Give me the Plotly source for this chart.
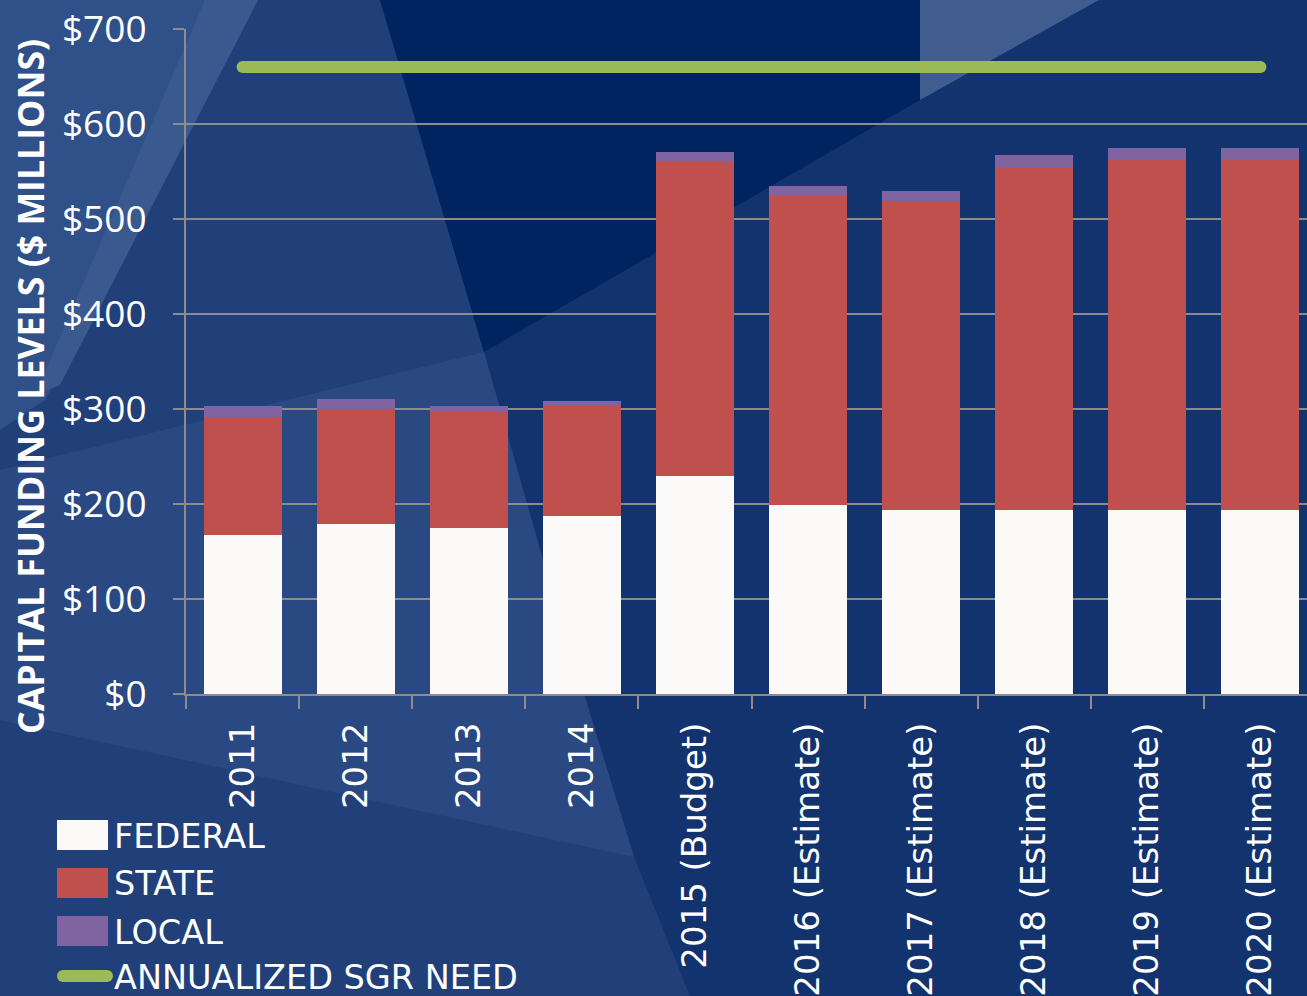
import plotly.graph_objects as go

categories = ["2011", "2012", "2013", "2014", "2015 (Budget)", "2016 (Estimate)",
              "2017 (Estimate)", "2018 (Estimate)", "2019 (Estimate)", "2020 (Estimate)"]
federal = [167, 179, 175, 187, 230, 199, 194, 194, 194, 194]
state = [125, 121, 122, 117, 330, 325, 325, 361, 369, 369]
local = [11, 11, 6, 4, 11, 11, 11, 12, 12, 12]
sgr_need = [660, 660, 660, 660, 660, 660, 660, 660, 660, 660]
y_ticks = [0, 100, 200, 300, 400, 500, 600, 700]
y_tick_text = ["$0", "$100", "$200", "$300", "$400", "$500", "$600", "$700"]

# the chart's plot area runs a little past the right edge of the 1307px view
W, H = 1317, 996
L, R, T, B = 186, 0, 29, 302
PW, PH = W - L - R, H - T - B


def px(x):
    return (x - L) / PW


def py(y):
    return (H - B - y) / PH


def poly(points, color):
    d = "M " + " L ".join(f"{px(x):.5f},{py(y):.5f}" for x, y in points) + " Z"
    return dict(type="path", xref="paper", yref="paper", path=d,
                fillcolor=color, line=dict(width=0), layer="below")


shapes = [
    # left base region
    poly([(0, 0), (380, 0), (484, 352), (543, 560), (634, 857), (690, 996), (0, 996)], "#21407a"),
    # lighter mid-left region
    poly([(484, 352), (543, 560), (634, 857), (0, 720), (0, 470)], "#2a4982"),
    # top-left light region
    poly([(0, 0), (255, 0), (45, 400), (0, 430)], "#30508a"),
    poly([(205, 0), (258, 0), (60, 385), (35, 395)], "#3a598f"),
    # dark top triangle
    poly([(380, 0), (920, 0), (920, 100), (484, 352)], "#00245f"),
    # light top-right triangle
    poly([(920, 0), (1099, 0), (920, 100)], "#415d8f"),
]

# custom legend
legend_font = dict(family="DejaVu Sans", size=33.5, color="white")
legend_rows = [("FEDERAL", "#fbfaf8", 835), ("STATE", "#c0504d", 883), ("LOCAL", "#8064a2", 931)]
annotations = []
for label, col, yc in legend_rows:
    shapes.append(dict(type="rect", xref="paper", yref="paper",
                       x0=px(57), x1=px(108), y0=py(yc + 15), y1=py(yc - 15),
                       fillcolor=col, line=dict(width=0)))
    annotations.append(dict(text=label, xref="paper", yref="paper", x=px(112), y=py(yc + 1),
                            xanchor="left", yanchor="middle", showarrow=False, font=legend_font))
# green legend line with rounded ends
gy = 976
shapes.append(dict(type="rect", xref="paper", yref="paper", x0=px(63), x1=px(107),
                   y0=py(gy + 6), y1=py(gy - 6), fillcolor="#9bbb59", line=dict(width=0)))
for cx in (63, 107):
    shapes.append(dict(type="circle", xref="paper", yref="paper", x0=px(cx - 6), x1=px(cx + 6),
                       y0=py(gy + 6), y1=py(gy - 6), fillcolor="#9bbb59", line=dict(width=0)))
annotations.append(dict(text="ANNUALIZED SGR NEED", xref="paper", yref="paper", x=px(112), y=py(gy + 1),
                        xanchor="left", yanchor="middle", showarrow=False, font=legend_font))
# y-axis title
annotations.append(dict(text="<b>CAPITAL FUNDING LEVELS ($ MILLIONS)</b>", xref="paper", yref="paper",
                        x=px(30), y=py(387), textangle=-90, xanchor="center", yanchor="middle",
                        showarrow=False, font=dict(family="Open Sans", size=35.7, color="white")))

fig = go.Figure()
fig.add_trace(go.Bar(x=categories, y=federal, name="FEDERAL", marker=dict(color="#fbfaf8", line=dict(width=0))))
fig.add_trace(go.Bar(x=categories, y=state, name="STATE", marker=dict(color="#c0504d", line=dict(width=0))))
fig.add_trace(go.Bar(x=categories, y=local, name="LOCAL", marker=dict(color="#8064a2", line=dict(width=0))))
fig.add_trace(go.Scatter(x=categories, y=sgr_need, name="ANNUALIZED SGR NEED", mode="lines+markers",
                         line=dict(color="#9bbb59", width=12), marker=dict(color="#9bbb59", size=12)))

fig.update_layout(
    width=W, height=H, margin=dict(l=L, r=R, t=T, b=B, autoexpand=False),
    barmode="stack", bargap=0.31, showlegend=False,
    paper_bgcolor="#13336f", plot_bgcolor="rgba(0,0,0,0)",
    shapes=shapes, annotations=annotations,
    xaxis=dict(type="category", range=[-0.5, 9.5], tickangle=-90, tickson="boundaries",
               ticks="outside", ticklen=13, tickwidth=2, tickcolor="#8c8c8c",
               showline=True, linecolor="#8c8c8c", linewidth=2, showgrid=False,
               ticklabelstandoff=13, automargin=False,
               tickfont=dict(family="DejaVu Sans", size=34, color="white")),
    yaxis=dict(range=[0, 700], tickvals=y_ticks, ticktext=y_tick_text,
               ticks="outside", ticklen=11, tickwidth=2, tickcolor="#8c8c8c",
               showline=True, linecolor="#8c8c8c", linewidth=2,
               showgrid=True, gridcolor="#8c8c8c", gridwidth=2, zeroline=False,
               ticklabelstandoff=19, automargin=False,
               tickfont=dict(family="Open Sans", size=37, color="white")),
)

fig.write_html("out.html", config={"displayModeBar": False},
               post_script="document.body.style.margin='0';document.body.style.overflow='hidden';")
